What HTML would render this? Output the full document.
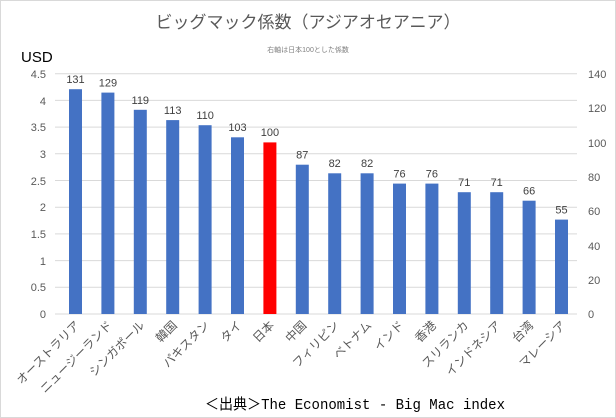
<!DOCTYPE html>
<html><head><meta charset="utf-8"><style>
html,body{margin:0;padding:0;background:#fff}
svg{display:block}
</style></head><body>
<svg width="616" height="418" xmlns="http://www.w3.org/2000/svg">
<rect x="0.5" y="0.5" width="615" height="417" fill="#fff" stroke="#d9d9d9"/>
<g font-family="'Liberation Sans','Noto Sans CJK JP',sans-serif">
<text x="308" y="28" text-anchor="middle" font-size="17" fill="#595959">ビッグマック係数（アジアオセアニア）</text>
<text x="308" y="52" text-anchor="middle" font-size="7" fill="#7f7f7f">右軸は日本100とした係数</text>
<text x="21" y="62" font-size="15" fill="#000">USD</text>
<g stroke="#d9d9d9" stroke-width="1">
<line x1="55" x2="577" y1="73.7" y2="73.7"/><line x1="55" x2="577" y1="100.4" y2="100.4"/>
<line x1="55" x2="577" y1="127.1" y2="127.1"/><line x1="55" x2="577" y1="153.8" y2="153.8"/>
<line x1="55" x2="577" y1="180.5" y2="180.5"/><line x1="55" x2="577" y1="207.2" y2="207.2"/>
<line x1="55" x2="577" y1="233.9" y2="233.9"/><line x1="55" x2="577" y1="260.6" y2="260.6"/>
<line x1="55" x2="577" y1="287.3" y2="287.3"/><line x1="55" x2="577" y1="314" y2="314"/>
</g>
<g font-size="11" fill="#595959" text-anchor="end">
<text x="46" y="78">4.5</text><text x="46" y="105">4</text><text x="46" y="131">3.5</text><text x="46" y="158">3</text><text x="46" y="185">2.5</text><text x="46" y="211">2</text><text x="46" y="238">1.5</text><text x="46" y="265">1</text><text x="46" y="291">0.5</text><text x="46" y="318">0</text>
</g>
<g font-size="11" fill="#595959" text-anchor="start">
<text x="588" y="78">140</text><text x="588" y="112">120</text><text x="588" y="147">100</text><text x="588" y="181">80</text><text x="588" y="215">60</text><text x="588" y="250">40</text><text x="588" y="284">20</text><text x="588" y="318">0</text>
</g>
<g fill="#4472c4">
<rect x="69" y="89.2" width="13" height="224.8"/>
<rect x="101.4" y="92.6" width="13" height="221.4"/>
<rect x="133.8" y="109.8" width="13" height="204.2"/>
<rect x="166.2" y="120.1" width="13" height="193.9"/>
<rect x="198.6" y="125.2" width="13" height="188.8"/>
<rect x="231" y="137.3" width="13" height="176.7"/>
<rect x="263.4" y="142.4" width="13" height="171.6" fill="#ff0000"/>
<rect x="295.8" y="164.7" width="13" height="149.3"/>
<rect x="328.2" y="173.3" width="13" height="140.7"/>
<rect x="360.6" y="173.3" width="13" height="140.7"/>
<rect x="393" y="183.6" width="13" height="130.4"/>
<rect x="425.4" y="183.6" width="13" height="130.4"/>
<rect x="457.8" y="192.2" width="13" height="121.8"/>
<rect x="490.2" y="192.2" width="13" height="121.8"/>
<rect x="522.6" y="200.7" width="13" height="113.3"/>
<rect x="555" y="219.6" width="13" height="94.4"/>
</g>
<g font-size="11" fill="#404040" text-anchor="middle">
<text x="75.5" y="83">131</text><text x="107.9" y="86.5">129</text><text x="140.3" y="104">119</text><text x="172.7" y="114">113</text><text x="205.1" y="119">110</text><text x="237.5" y="131">103</text><text x="269.9" y="136">100</text><text x="302.3" y="158.5">87</text><text x="334.7" y="167">82</text><text x="367.1" y="167">82</text><text x="399.5" y="177.5">76</text><text x="431.9" y="177.5">76</text><text x="464.3" y="186">71</text><text x="496.7" y="186">71</text><text x="529.1" y="194.5">66</text><text x="561.5" y="213.5">55</text>
</g>
<g font-size="12" fill="#595959" text-anchor="end">
<text transform="translate(80.5,326) rotate(-45)">オーストラリア</text>
<text transform="translate(112.9,326) rotate(-45)">ニュージーランド</text>
<text transform="translate(145.3,326) rotate(-45)">シンガポール</text>
<text transform="translate(177.7,326) rotate(-45)">韓国</text>
<text transform="translate(210.1,326) rotate(-45)">パキスタン</text>
<text transform="translate(242.5,326) rotate(-45)">タイ</text>
<text transform="translate(274.9,326) rotate(-45)">日本</text>
<text transform="translate(307.3,326) rotate(-45)">中国</text>
<text transform="translate(339.7,326) rotate(-45)">フィリピン</text>
<text transform="translate(372.1,326) rotate(-45)">ベトナム</text>
<text transform="translate(404.5,326) rotate(-45)">インド</text>
<text transform="translate(436.9,326) rotate(-45)">香港</text>
<text transform="translate(469.3,326) rotate(-45)">スリランカ</text>
<text transform="translate(501.7,326) rotate(-45)">インドネシア</text>
<text transform="translate(534.1,326) rotate(-45)">台湾</text>
<text transform="translate(566.5,326) rotate(-45)">マレーシア</text>
</g>
<text x="205" y="409" font-family="'Liberation Mono','Noto Sans CJK JP',monospace" font-size="15" fill="#000" textLength="300" lengthAdjust="spacingAndGlyphs">＜出典＞The Economist - Big Mac index</text>
</g>
</svg>
</body></html>
